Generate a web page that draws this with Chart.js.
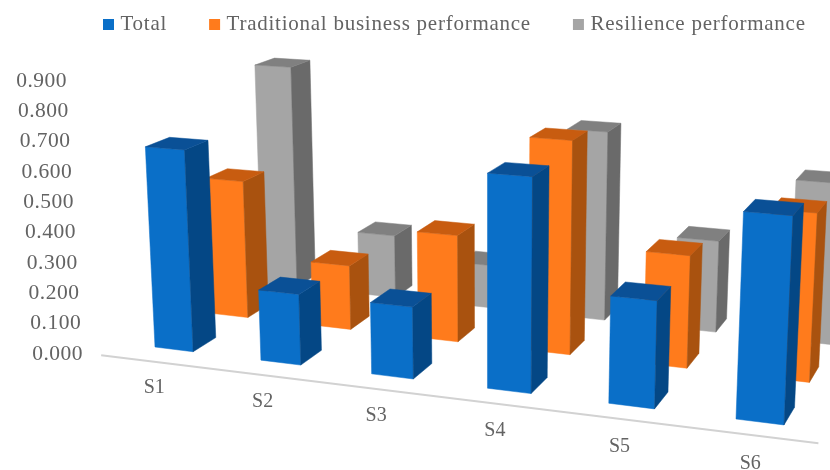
<!DOCTYPE html>
<html>
<head>
<meta charset="utf-8">
<style>
    html, body { margin: 0; padding: 0; background: #fff; overflow: hidden; }
    #wrap { width: 830px; height: 470px; }
</style>
<script src="https://cdn.jsdelivr.net/npm/chart.js@4"></script>
</head>
<body>
<div id="wrap"><canvas id="chart" width="830" height="470"></canvas></div>
<script>
const categories = ['S1', 'S2', 'S3', 'S4', 'S5', 'S6']
const total = [0.660, 0.226, 0.225, 0.663, 0.323, 0.610]
const traditional = [0.470, 0.215, 0.352, 0.695, 0.357, 0.525]
const resilience = [0.800, 0.220, 0.148, 0.645, 0.305, 0.530]
const seriesNames = ['Total', 'Traditional business performance', 'Resilience performance']
const frontColors = ['#0a6fc8', '#ff7b1c', '#a5a5a5']
const sideColors = ['#044785', '#a9520f', '#6a6a6a']
const topColors = ['#0a5096', '#c85c10', '#808080']

const TEXT_COLOR = '#636363'
const SERIF = '"Liberation Serif", "Times New Roman", serif'

// floor of the 3D box: first/last front column and first/last back column
const A = [155, 347], B = [736, 419], C = [262, 283], D = [789, 340]
const det = (B[0] - D[0]) * (C[1] - D[1]) - (C[0] - D[0]) * (B[1] - D[1])
const sx = A[0] - B[0] + D[0] - C[0]
const sy = A[1] - B[1] + D[1] - C[1]
const g = (sx * (C[1] - D[1]) - (C[0] - D[0]) * sy) / det
const h = ((B[0] - D[0]) * sy - sx * (B[1] - D[1])) / det

const BAR_PCT = 0.365
const BAR_DEPTH = 0.2
const LEAN = 0.000145
const VANISH_X = 487

function project(s, t, height) {
    const w = g * s + h * t + 1
    const x = ((B[0] - A[0] + g * B[0]) * s + (C[0] - A[0] + h * C[0]) * t + A[0]) / w
    const y = ((B[1] - A[1] + g * B[1]) * s + (C[1] - A[1] + h * C[1]) * t + A[1]) / w
    const up = (height || 0) / w
    return [VANISH_X + (x - VANISH_X) * (1 + LEAN * up), y - up]
}

function toS(chart, px) {
    const scale = chart.scales.x
    const cw = scale.width / categories.length
    return (px - scale.left - cw * (1 - BAR_PCT) / 2) / (cw * (categories.length - 1))
}

function face(ctx, pts, color) {
    ctx.fillStyle = color
    ctx.strokeStyle = color
    ctx.lineWidth = 0.5
    ctx.beginPath()
    pts.forEach(function (p, i) {
        if (i === 0) ctx.moveTo(p[0], p[1])
        else ctx.lineTo(p[0], p[1])
    })
    ctx.closePath()
    ctx.fill()
    ctx.stroke()
}

const box3d = {
    id: 'box3d',
    beforeLayout(chart) {
        chart.ctx.letterSpacing = '0.75px'
        const legend = chart.legend
        if (!legend.fitWrapped) {
            // keep the plot top where the axis starts, the legend only takes 80px
            const fit = legend.fit
            legend.fit = function () {
                fit.call(this)
                this.height = 80
            }
            legend.fitWrapped = true
        }
    },
    afterLayout(chart) {
        const legend = chart.legend
        const pad = legend.options.labels.padding
        legend.left = 107 - pad
        legend.right = 1200
        legend.top = 25 - pad - 11
    },
    beforeDraw(chart) {
        chart.ctx.letterSpacing = '0.75px'
    },
    beforeDatasetsDraw(chart) {
        const { ctx } = chart
        const scale = chart.scales.x
        const a = project(toS(chart, scale.left), -0.17)
        const b = project(1.135, -0.14)
        ctx.save()
        ctx.strokeStyle = '#d2d2d2'
        ctx.lineWidth = 2
        ctx.beginPath()
        ctx.moveTo(a[0], a[1])
        ctx.lineTo(b[0], b[1])
        ctx.stroke()
        ctx.restore()
    },
    beforeDatasetDraw(chart, args) {
        const { ctx } = chart
        const row = args.index
        args.meta.data.forEach(function (bar) {
            const s0 = toS(chart, bar.x - bar.width / 2)
            const s1 = toS(chart, bar.x + bar.width / 2)
            const t0 = row / 2
            const t1 = t0 + BAR_DEPTH
            const ht = bar.base - bar.y
            const fl = project(s0, t0, 0), fr = project(s1, t0, 0), br = project(s1, t1, 0)
            const tfl = project(s0, t0, ht), tfr = project(s1, t0, ht)
            const tbr = project(s1, t1, ht), tbl = project(s0, t1, ht)
            face(ctx, [tfl, tfr, fr, fl], frontColors[row])
            face(ctx, [tfr, tbr, br, fr], sideColors[row])
            face(ctx, [tfl, tbl, tbr, tfr], topColors[row])
        })
        return false
    },
    afterDatasetsDraw(chart) {
        const { ctx } = chart
        const yScale = chart.scales.y
        const xScale = chart.scales.x
        ctx.save()
        ctx.fillStyle = TEXT_COLOR
        ctx.textBaseline = 'middle'
        ctx.letterSpacing = '0.5px'
        // value labels slant with the axis
        ctx.font = '21.5px ' + SERIF
        ctx.textAlign = 'right'
        yScale.ticks.forEach(function (tick) {
            const py = yScale.getPixelForValue(tick.value)
            ctx.fillText(tick.label, 83 - (yScale.bottom - py) * 16 / 273, py + 1)
        })
        // category labels follow the floor edge
        ctx.font = '20px ' + SERIF
        ctx.letterSpacing = '0px'
        ctx.textAlign = 'center'
        xScale.ticks.forEach(function (tick, i) {
            const p = project(toS(chart, xScale.getPixelForTick(i)), -0.165)
            ctx.fillText(tick.label, p[0], p[1] + 26.5)
        })
        ctx.restore()
    }
}

function makeSet(name, values, i) {
    return {
        label: name,
        data: values,
        backgroundColor: frontColors[i],
        borderWidth: 0,
        grouped: false,
        barPercentage: BAR_PCT,
        categoryPercentage: 1,
        clip: false
    }
}

new Chart(document.getElementById('chart'), {
    type: 'bar',
    data: {
        labels: categories,
        datasets: [
            makeSet(seriesNames[0], total, 0),
            makeSet(seriesNames[1], traditional, 1),
            makeSet(seriesNames[2], resilience, 2)
        ]
    },
    options: {
        animation: false,
        responsive: false,
        layout: { padding: { left: 100, right: 0, top: 0, bottom: 117 } },
        scales: {
            x: { display: false, offset: true, ticks: { autoSkip: false } },
            y: {
                display: false,
                min: 0,
                max: 0.9,
                ticks: {
                    stepSize: 0.1,
                    callback: function (val) { return Number(val).toFixed(3) }
                }
            }
        },
        plugins: {
            tooltip: { enabled: false },
            legend: {
                position: 'top',
                align: 'start',
                labels: {
                    usePointStyle: true,
                    pointStyle: 'rect',
                    boxWidth: 3,
                    boxHeight: 11,
                    padding: 46,
                    color: TEXT_COLOR,
                    font: { family: SERIF, size: 21 }
                }
            }
        }
    },
    plugins: [box3d]
})
</script>
</body>
</html>
